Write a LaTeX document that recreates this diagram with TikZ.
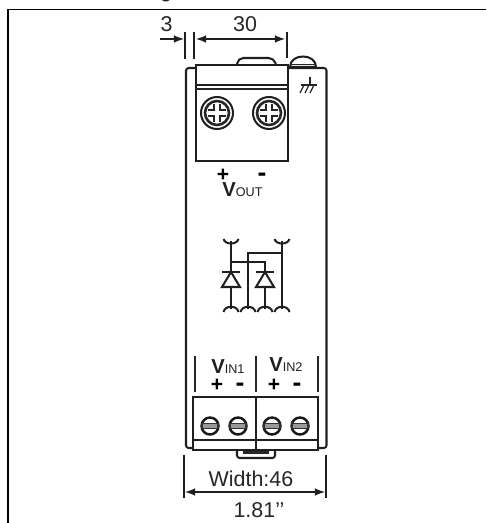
\documentclass[tikz,border=0pt]{standalone}
\usepackage{fontspec}
\setmainfont{Liberation Sans}
\tikzset{
  body/.style={line width=1.15pt,color=black!88},
  thinbody/.style={line width=0.75pt,color=black!85},
  dimline/.style={line width=1pt,color=black!88},
  dimlabel/.style={inner sep=0pt,color=black!85,font=\fontsize{12.2}{14}\selectfont},
  voltlabel/.style={inner sep=0pt,anchor=base west,color=black!88,font=\fontsize{7.2}{9}\selectfont},
  polarity/.style={inner sep=0pt,color=black,font=\bfseries\fontsize{12}{13}\selectfont},
  polarminus/.style={inner sep=0pt,color=black,font=\bfseries\fontsize{15}{16}\selectfont}
}
\newcommand{\voltmark}{\textbf{\fontsize{11.5}{13}\selectfont V}}
\begin{document}
\begin{tikzpicture}[x=0.02cm,y=-0.02cm]
\useasboundingbox (0,0) rectangle (486,523);
\def\topscrewy{113}
\def\botscrewy{426}
\def\forkup{239}
\def\forkdown{312}

% frame
\draw[line width=0.7pt] (8,523) -- (8,9.5) -- (486,9.5);
\node[dimlabel,anchor=base] (cutoff) at (166,-2) {g};

% top dimensions
\node[dimlabel,anchor=base] (dimthree) at (166.5,32) {3};
\node[dimlabel,anchor=base] (dimthirty) at (245,32) {30};
\draw[dimline] (185,32) -- (185,59);
\draw[dimline] (194,32) -- (194,59);
\draw[dimline] (287,32) -- (287,58);
\draw[dimline,-latex] (160,39) -- (184,39);
\draw[dimline,latex-latex] (196,39) -- (285,39);

% housing
\draw[body,rounded corners=1.5pt] (196,68) -- (186,68) -- (186,448) -- (193,448);
\draw[body,rounded corners=1.5pt] (289,68) -- (326.5,68) -- (326.5,448) -- (318,448);

% output terminal
\draw[body] (196,65) rectangle (288,161);
\draw[body] (196,85) -- (288,85);
\draw[thinbody] (196,89) -- (288,89);
\draw[body,rounded corners=3pt] (237,65) -- (238,58) -- (274,58) -- (276,65);

% earth screw and mark
\draw[body] (290,67) .. controls (290,53) and (316,53) .. (316,67) -- cycle;
\draw[thinbody] (291,64.5) -- (315,64.5);
\draw[thinbody] (310,77) -- (310,85);
\draw[thinbody] (301,85) -- (317,85);
\draw[thinbody] (304,85) -- (300,93);
\draw[thinbody] (309,85) -- (305,93);
\draw[thinbody] (314,85) -- (310,93);

% output screws
\draw[body] (217,\topscrewy) circle[radius=16];
\draw[line width=1.5pt,color=black!85] (217,\topscrewy) circle[radius=12];
\draw[line width=4.6pt,color=black!85] (208,\topscrewy) -- (226,\topscrewy) (217,\topscrewy-9) -- (217,\topscrewy+9);
\draw[line width=2.4pt,color=white] (207,\topscrewy) -- (227,\topscrewy) (217,\topscrewy-10) -- (217,\topscrewy+10);
\draw[body] (269,\topscrewy) circle[radius=16];
\draw[line width=1.5pt,color=black!85] (269,\topscrewy) circle[radius=12];
\draw[line width=4.6pt,color=black!85] (260,\topscrewy) -- (278,\topscrewy) (269,\topscrewy-9) -- (269,\topscrewy+9);
\draw[line width=2.4pt,color=white] (259,\topscrewy) -- (279,\topscrewy) (269,\topscrewy-10) -- (269,\topscrewy+10);

% output labels
\node[polarity] (outplus) at (223,175.5) {+};
\node[polarminus] (outminus) at (262,177) {-};
\node[voltlabel] (vout) at (222,197) {\voltmark OUT};

% diode symbol
\draw[body] (231,241) -- (231,309);
\draw[body] (282,241) -- (282,309);
\draw[body] (248,309) -- (248,253) -- (282,253);
\draw[body] (231,262) -- (265,262) -- (265,309);
\draw[body] (223.5,\forkup) .. controls (225,245) and (237,245) .. (238.5,\forkup);
\draw[body] (274.5,\forkup) .. controls (276,245) and (288,245) .. (289.5,\forkup);
\draw[body] (223.5,\forkdown) .. controls (225,305) and (237,305) .. (238.5,\forkdown);
\draw[body] (240.5,\forkdown) .. controls (242,305) and (254,305) .. (255.5,\forkdown);
\draw[body] (257.5,\forkdown) .. controls (259,305) and (271,305) .. (272.5,\forkdown);
\draw[body] (274.5,\forkdown) .. controls (276,305) and (288,305) .. (289.5,\forkdown);
\draw[body,fill=white] (231,272) -- (222,287) -- (240,287) -- cycle;
\draw[body] (222,272) -- (240,272);
\draw[body,fill=white] (265,272) -- (256,287) -- (274,287) -- cycle;
\draw[body] (256,272) -- (274,272);

% input labels
\draw[thinbody] (195,356) -- (195,392);
\draw[thinbody] (256,356) -- (256,392);
\draw[thinbody] (318,356) -- (318,392);
\node[voltlabel] (vinone) at (211,373) {\voltmark IN1};
\node[voltlabel] (vintwo) at (269,371.5) {\voltmark IN2};
\node[polarity] (oneplus) at (217,385.5) {+};
\node[polarminus] (oneminus) at (240,387) {-};
\node[polarity] (twoplus) at (274,385.5) {+};
\node[polarminus] (twominus) at (297,387) {-};

% input terminal
\draw[body] (193,397) rectangle (318,450);
\draw[body] (256,397) -- (256,450);
\draw[body] (193,440) -- (318,440);
\draw[body,rounded corners=1.5pt] (237,450) -- (237,458) -- (275,458) -- (275,450);
\draw[line width=1.2pt,color=black!85] (243,452.5) -- (269,452.5);

% input screws
\draw[line width=1.4pt,color=black!90,fill=white] (210,\botscrewy) circle[radius=8.5];
\draw[line width=1.4pt,color=black!90,fill=white] (238,\botscrewy) circle[radius=8.5];
\draw[line width=1.4pt,color=black!90,fill=white] (272,\botscrewy) circle[radius=8.5];
\draw[line width=1.4pt,color=black!90,fill=white] (300,\botscrewy) circle[radius=8.5];
\draw[line width=0.7pt,color=black!80,fill=black!40] (202,\botscrewy-2.5) rectangle (218,\botscrewy+2.5);
\draw[line width=0.7pt,color=black!80,fill=black!40] (230,\botscrewy-2.5) rectangle (246,\botscrewy+2.5);
\draw[line width=0.7pt,color=black!80,fill=black!40] (264,\botscrewy-2.5) rectangle (280,\botscrewy+2.5);
\draw[line width=0.7pt,color=black!80,fill=black!40] (292,\botscrewy-2.5) rectangle (308,\botscrewy+2.5);

% width dimension
\draw[dimline] (184,455) -- (184,498);
\draw[dimline] (326,455) -- (326,498);
\draw[dimline,latex-latex] (185,492) -- (325,492);
\node[dimlabel,anchor=base] (dimwidth) at (251,486.5) {Width:46};
\node[dimlabel,anchor=base] (diminch) at (259,517) {1.81’’};
\end{tikzpicture}
\end{document}
